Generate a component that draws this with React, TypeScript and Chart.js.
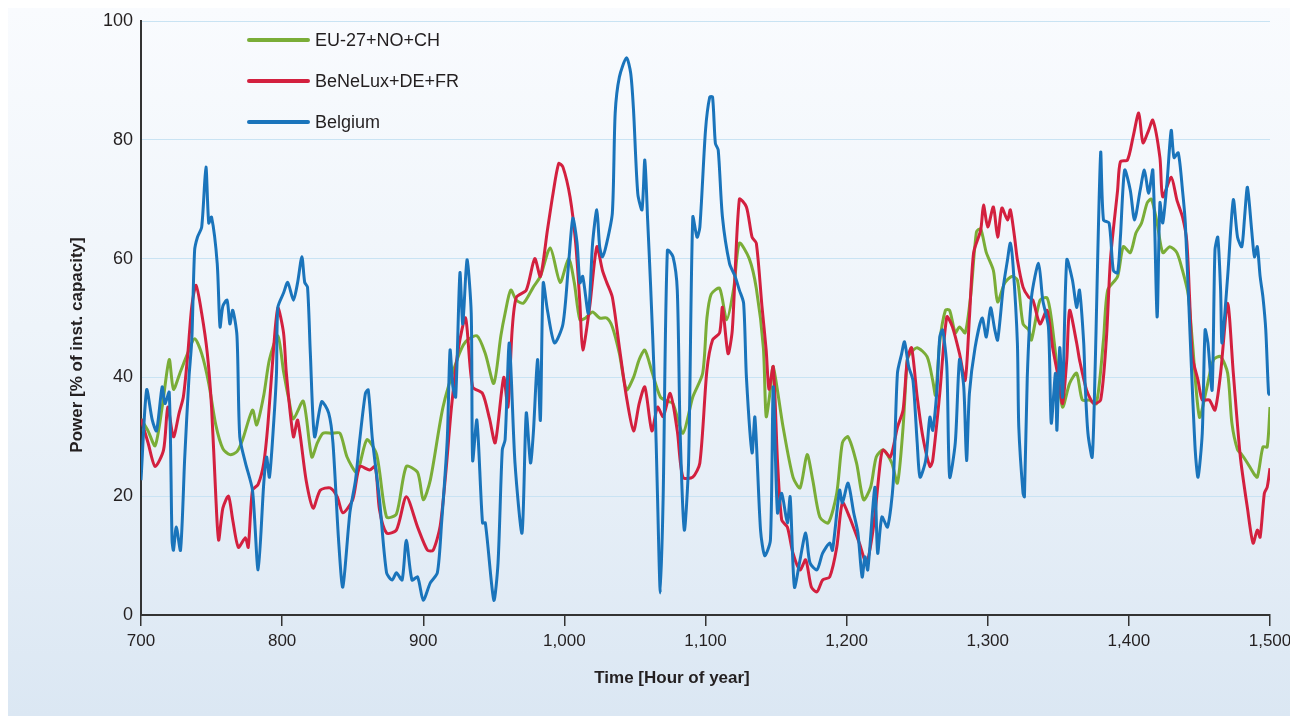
import React, { useEffect, useRef } from "react";
import { Chart, registerables } from "chart.js";

Chart.register(...registerables);

// ---- Data (hour of year, % of installed capacity) ----
const euHours = [700,705,710,715,720,723,728,733,738,743,748,753,758,763,768,772,779,782,787,791,797,801,805,808,815,821,825,829,835,841,846,853,860,867,874,881,888,896,900,905,914,924,930,938,944,950,955,958,962,966,971,978,983,990,997,1003,1007,1011,1015,1020,1025,1030,1034,1039,1044,1049,1053,1057,1062,1068,1073,1077,1084,1091,1098,1101,1104,1110,1115,1120,1124,1131,1136,1141,1143,1146,1148,1155,1162,1167,1172,1176,1181,1187,1193,1197,1201,1207,1212,1217,1221,1226,1232,1236,1240,1243,1245,1250,1257,1261,1263,1266,1270,1273,1277,1280,1284,1288,1292,1295,1299,1304,1307,1312,1317,1321,1325,1329,1331,1337,1342,1345,1349,1353,1358,1363,1367,1372,1377,1382,1385,1392,1396,1401,1405,1409,1413,1416,1420,1424,1429,1434,1438,1442,1445,1450,1455,1460,1465,1470,1473,1477,1480,1484,1488,1491,1495,1498,1500];
const euValues = [33,31,28.5,35,43,38,41,44,46.5,44,39,32,28,27,27.5,29.5,34.5,32,37,43,47,41,36,33,36,26.6,29,30.6,30.6,30.6,26.6,24,29.5,27,16.5,17,25,24,19.4,22.7,35,43,46,47,44,39,47,50.8,54.7,53,52.5,55.2,57,61.8,56,60,56,49.7,50,51,50,50,48.5,44,37.9,40,43,44.6,41,36.7,36,35.6,30.6,36.7,40.7,50,54,55,49.7,55,62.6,60,55,45,33.4,38,41.8,31.6,23.2,21.4,27,22.7,16.5,15.5,20.5,29,30,25.6,19.4,21.5,26.6,27.8,25.6,22.2,31.6,43,44,45,43.5,39.5,37,46,51.3,51.3,47.5,48.5,47.5,54,64.5,65,61,58,52.7,55.9,57,56.4,49,48,46.3,53,53.4,50,42,35,39,40.7,36.2,36.2,35.6,46.3,54.7,57,62,61,64.3,66,69.4,70,66,61,62,61,58,54,46,33.3,38,43,43.5,40.7,32.3,27.8,27,25.6,24,23.2,28.3,28.3,35];

const beHours = [700,705,710,716,719,723,727,730,733,736,739,743,747,750,753,755,758,762,765,769,774,776,779,783,787,790,794,797,801,803,808,811,817,822,827,834,839,843,850,855,862,866,869,874,881,888,896,903,907,912,916,920,925,930,935,942,947,951,957,960,963,966,973,979,983,988,992,996,999,1004,1008,1011,1013,1018,1023,1027,1030,1034,1039,1044,1049,1053,1057,1062,1066,1070,1075,1080,1084,1091,1096,1101,1105,1110,1112,1116,1119,1124,1129,1133,1136,1140,1143,1145,1148,1151,1154,1158,1162,1167,1171,1175,1179,1183,1188,1193,1197,1202,1209,1214,1219,1224,1226,1231,1236,1240,1243,1246,1250,1254,1259,1261,1266,1271,1275,1280,1284,1287,1290,1295,1297,1300,1304,1307,1310,1314,1316,1319,1321,1325,1329,1332,1337,1342,1346,1350,1353,1356,1358,1363,1365,1370,1375,1380,1384,1387,1392,1394,1399,1403,1407,1410,1414,1417,1422,1424,1430,1434,1438,1441,1443,1445,1449,1452,1457,1461,1465,1470,1474,1479,1484,1488,1491,1493,1496,1498,1500];
const beValues = [33,29,25,27.8,35,30,34,36.7,43.5,52,55.5,50.8,44,35,20,12.6,18,20,16,11.4,13,11.4,21,22,25.6,32.3,45,51.7,47.5,40.7,30,32.8,22.7,18,21,21.4,19.9,17.2,19.4,25,24.4,25,17.7,13.8,14.3,19.9,14.8,10.9,10.9,15,24,35,45,50,38.4,37.3,33,29,40,35,48,53.5,54.7,60,57,64.8,71,76,75.4,70.4,62.6,52.5,44.6,52,62,58,56,53.5,45,36.7,31,35.6,38.4,31,35,33.4,37.3,31,23.2,23.2,25.6,41.2,46.3,47.5,51.8,44,48,70,68.7,63.6,62.6,52,44.6,38,41.8,26,16,14.8,10.4,7.6,9.3,4.7,3.9,5.9,6.4,11.4,18.9,16.5,12.1,8.8,14.8,26,27.8,26.6,31.6,34.5,43,45,36.7,30,25,26,37.3,50.2,48.5,44,39.5,50,61,64.8,69,65.3,68.7,63.6,68.5,66.5,68.2,63.6,59.8,55.2,53.5,53,49,51.3,45,40,35.6,43,51.3,45.8,43,37.9,35.6,36.2,46.3,60,71.5,76.3,76.6,80.5,84.5,79.5,81.6,83.3,77,70.4,73.7,69.9,67,63,53.5,43.5,39.5,36.2,36.2,34.5,40.7,52.5,40.7,26.6,18,12.1,14.3,13.1,20.5,21.5,24.7];

const bgHours = [700,704,708,711,715,717,720,722,723,725,728,731,734,736,738,740,743,746,748,750,754,756,758,761,763,765,768,770,774,779,783,787,789,791,794,796,797,801,804,808,811,814,816,818,820,823,828,833,836,840,843,848,852,855,859,861,864,869,874,878,881,885,888,892,896,900,905,910,913,917,919,921,923,926,928,931,934,935,938,942,944,950,953,956,958,961,965,970,973,976,978,981,983,985,988,993,999,1003,1006,1009,1011,1013,1017,1020,1023,1025,1027,1030,1034,1036,1039,1044,1047,1049,1052,1055,1057,1059,1061,1064,1066,1068,1070,1073,1077,1080,1082,1085,1088,1091,1094,1096,1100,1103,1105,1107,1109,1112,1117,1121,1124,1127,1129,1133,1135,1139,1142,1146,1148,1151,1154,1158,1160,1163,1167,1171,1174,1179,1183,1188,1190,1195,1197,1201,1205,1208,1211,1213,1215,1220,1222,1225,1229,1233,1236,1239,1241,1244,1247,1250,1252,1256,1259,1261,1264,1266,1268,1271,1273,1277,1280,1283,1285,1287,1291,1296,1299,1302,1305,1307,1311,1314,1316,1318,1321,1322,1325,1326,1328,1331,1336,1339,1343,1345,1348,1349,1351,1353,1356,1360,1363,1365,1368,1369,1371,1374,1376,1380,1382,1386,1389,1392,1394,1397,1401,1404,1408,1411,1414,1417,1420,1422,1424,1427,1430,1432,1435,1438,1440,1444,1447,1449,1452,1454,1456,1459,1461,1463,1465,1466,1470,1474,1477,1480,1482,1484,1487,1489,1491,1493,1495,1497,1499,1500];
const bgValues = [22.7,37.9,32.8,31,38.4,35.6,37.5,12.6,10.9,14.8,10.9,26.6,40,46.3,61.4,63.6,65.3,75.4,66,67,59.2,48.5,52,53,49,51.3,47,30,25.6,21,7.6,22.2,26.6,23.2,32.3,40.7,51.8,54.2,56,53,56,60.3,56,55.2,44,30,35.9,34,29,12.6,4.7,17.2,22.7,29.5,37.3,37.9,29.5,19.4,7.1,5.9,7.1,5.9,12.6,5.9,6.4,2.5,5.4,7.1,15.5,29.5,44.6,38.4,36.7,57.6,49,59.8,50.8,26,32.8,15.5,15.5,2.5,8.8,27.8,29.5,45.8,25.6,13.8,34,25.6,30.6,43,32.8,55.9,51.3,45.8,49,59.2,66.8,62.6,55.9,57,50.8,62.6,68.2,62,60.3,62.6,67.7,84.5,90.6,93.8,91.2,85,71,68.2,76.6,66.5,56,38,19.9,3.7,19.9,61.4,60.3,54.7,31.1,14.3,25.6,67,63.6,65.3,81.6,87.2,87.2,79.4,78.3,67,59.2,57,54.7,52.5,40,27.3,33.3,14.3,10,12.6,38.4,17.2,20.5,15.5,19.9,4.7,9.3,13.8,8.8,7.6,10.4,12.1,10.9,21,18.9,22.2,17.2,13.8,6.4,9.8,7.6,21.5,10.4,16.5,14.8,22.2,40.7,44,46,41.8,39.5,29,23.2,26,33.3,31.1,37.9,46.8,48,41.8,23.2,29,43,38.4,26,37.3,45,50,46.8,51.7,48,46.3,55.2,59.8,62.6,58.6,45.8,31.6,20.5,19.9,40,53.5,59.2,53,48.5,32.3,40.7,31.1,45,36.7,59.8,56.4,51.8,54.7,45.8,39,30.6,26.6,40.7,77.8,66.5,66,58,57.6,63.6,74.9,71.5,66.5,71.5,74.9,71,74.9,50.2,69.4,66,72.7,81.6,77,77.8,71.5,66,43.5,27.8,23.2,30.6,48,45.8,37.9,61.4,63.6,54.7,45.8,57,69.9,63.6,62,67,72,64.8,60.3,62,57,53.5,48,37.3,37];

const seriesLabels = ["EU-27+NO+CH", "BeNeLux+DE+FR", "Belgium"];
const seriesColors = ["#7aad37", "#d3203f", "#1a74bb"];
const xTickStep = 100;
const yTickStep = 20;

const FONT = "'Liberation Sans', Arial, sans-serif";

const toPoints = (hs: number[], vs: number[]) => hs.map((h, i) => ({ x: h, y: vs[i] }));

const overlayPlugin = {
  id: "overlay",
  afterDraw(chart: any) {
    const ctx = chart.ctx;
    ctx.save();
    // Legend
    const ds = chart.data.datasets;
    ctx.font = `18px ${FONT}`;
    ctx.textBaseline = "middle";
    ctx.textAlign = "left";
    for (let i = 0; i < ds.length; i++) {
      const y = 32 + i * 41;
      ctx.strokeStyle = ds[i].borderColor;
      ctx.lineWidth = 4;
      ctx.lineCap = "round";
      ctx.beginPath();
      ctx.moveTo(241, y);
      ctx.lineTo(300, y);
      ctx.stroke();
      ctx.fillStyle = "#231f20";
      ctx.fillText(ds[i].label, 307, y + 1);
    }
    // Axis titles
    ctx.fillStyle = "#231f20";
    ctx.font = `bold 17px ${FONT}`;
    ctx.textAlign = "center";
    ctx.fillText("Time [Hour of year]", 664, 670);
    ctx.translate(69, 337);
    ctx.rotate(-Math.PI / 2);
    ctx.fillText("Power [% of inst. capacity]", 0, 0);
    ctx.restore();
  },
};

export default function App() {
  const ref = useRef<HTMLCanvasElement | null>(null);
  useEffect(() => {
    if (!ref.current) return;
    const all = [toPoints(euHours, euValues), toPoints(beHours, beValues), toPoints(bgHours, bgValues)];
    const chart = new Chart(ref.current, {
      type: "line",
      data: {
        datasets: all.map((d, i) => ({
          label: seriesLabels[i],
          data: d,
          borderColor: seriesColors[i],
          backgroundColor: seriesColors[i],
          borderWidth: 3,
          pointRadius: 0,
          tension: 0.25,
          fill: false,
          order: 3 - i,
        })),
      },
      options: {
        animation: false,
        responsive: true,
        maintainAspectRatio: false,
        layout: { padding: { top: 13, right: 28, left: 0, bottom: 0 } },
        plugins: { legend: { display: false }, tooltip: { enabled: false } },
        scales: {
          x: {
            type: "linear",
            min: 700,
            max: 1500,
            afterFit: (s: any) => {
              s.height = 101;
              s.paddingLeft = 0;
              s.paddingRight = 0;
            },
            ticks: {
              stepSize: xTickStep,
              color: "#231f20",
              font: { family: FONT, size: 17 },
              padding: 5,
              maxRotation: 0,
              callback: (v: any) => Number(v).toLocaleString("en-US"),
            },
            grid: { display: true, drawOnChartArea: false, drawTicks: true, tickLength: 11, color: "#333", lineWidth: 1.5 },
            border: { display: true, color: "#333", width: 2 },
          },
          y: {
            min: 0,
            max: 100,
            afterFit: (s: any) => {
              s.width = 133;
              s.paddingTop = 0;
              s.paddingBottom = 0;
            },
            ticks: {
              stepSize: yTickStep,
              color: "#231f20",
              font: { family: FONT, size: 18 },
              padding: 8,
            },
            grid: { color: "#c9e3f3", lineWidth: 1, drawTicks: false },
            border: { display: true, color: "#333", width: 2 },
          },
        },
      },
      plugins: [overlayPlugin],
    });
    return () => chart.destroy();
  }, []);
  return (
    <div
      style={{
        width: 1282,
        height: 708,
        position: "relative",
        background: "linear-gradient(to bottom, #f9fbfe 0%, #eef4fa 45%, #dbe7f3 100%)",
      }}
    >
      <div style={{ position: "absolute", left: 0, top: 0, width: 1290, height: 708 }}>
        <canvas ref={ref} />
      </div>
    </div>
  );
}
